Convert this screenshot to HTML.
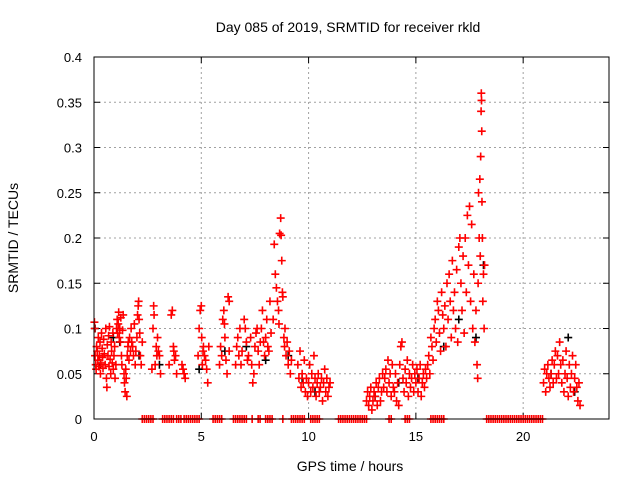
<!DOCTYPE html>
<html><head><meta charset="utf-8"><style>
body{margin:0;background:#fff}
svg{display:block;font-family:"Liberation Sans",sans-serif}
</style></head><body>
<svg id="chart" width="640" height="480">
<text x="348" y="32" text-anchor="middle" font-size="14">Day 085 of 2019, SRMTID for receiver rkld</text>
<text x="350" y="471" text-anchor="middle" font-size="14">GPS time / hours</text>
<text transform="translate(18,238) rotate(-90)" text-anchor="middle" font-size="14">SRMTID / TECUs</text>
<g id="grid"></g><g id="ticks"></g><g id="black"></g><g id="red"></g>
<rect x="94" y="57" width="515" height="362" fill="none" stroke="#000" stroke-width="1"/>
</svg>
<script>
const xTicks=[0,5,10,15,20];
const yTicks=[0,0.05,0.1,0.15,0.2,0.25,0.3,0.35,0.4];
const yTickLabels=["0","0.05","0.1","0.15","0.2","0.25","0.3","0.35","0.4"];
const hours=[0.02,0.03,0.05,0.08,0.1,0.12,0.15,0.18,0.2,0.22,0.25,0.28,0.3,0.32,0.35,0.38,0.4,0.42,0.45,0.48,
0.52,0.55,0.58,0.6,0.62,0.65,0.68,0.7,0.72,0.75,0.78,0.8,0.82,0.85,0.88,0.9,0.93,0.96,0.98,
1.02,1.05,1.08,1.1,1.13,1.15,1.18,1.2,1.23,1.25,1.28,1.3,1.33,1.36,1.4,1.42,1.45,1.48,
1.5,1.53,1.55,1.58,1.6,1.63,1.66,1.7,1.73,1.76,1.8,1.84,1.88,1.92,1.95,
2.0,2.03,2.06,2.08,2.1,2.13,2.16,2.2,2.25,
2.7,2.75,2.78,2.8,2.85,2.9,2.93,2.96,3.0,3.05,3.1,
3.5,3.6,3.65,3.7,3.72,3.75,3.8,3.85,
4.1,4.15,4.2,4.25,
4.85,4.9,4.95,5.0,5.02,5.05,5.08,5.1,5.15,5.2,5.25,5.3,5.35,
5.85,5.9,5.95,6.0,6.05,6.08,6.1,6.15,6.2,6.25,6.3,6.3,
6.6,6.65,6.7,6.75,6.8,6.85,6.9,7.0,7.05,7.1,7.15,7.2,
7.3,7.35,7.4,7.45,7.5,7.55,7.6,7.65,7.7,7.75,
7.8,7.85,7.9,7.95,8.0,8.05,8.1,8.15,8.2,8.25,
8.35,8.4,8.45,8.5,8.55,8.6,8.62,8.65,8.7,8.72,8.75,8.78,8.8,8.85,8.88,
8.9,8.95,9.0,9.05,9.1,9.15,9.2,
9.5,9.55,9.6,9.65,9.7,9.75,9.8,9.85,9.9,9.95,
10.0,10.05,10.1,10.15,10.2,10.25,10.3,10.35,10.4,10.45,10.5,10.55,10.6,10.65,10.7,10.75,10.8,10.85,10.9,10.95,11.0,
12.7,12.75,12.8,12.85,12.9,12.95,13.0,13.05,13.1,13.15,13.2,13.25,13.3,13.35,13.4,13.45,
13.5,13.55,13.6,13.65,13.7,13.75,13.8,13.85,13.9,13.95,
14.0,14.05,14.1,14.15,14.2,14.25,14.3,14.35,14.4,14.45,14.5,14.55,14.6,14.65,14.7,14.75,14.8,14.85,14.9,14.95,
15.0,15.05,15.1,15.15,15.2,15.25,15.3,15.35,15.4,15.45,15.5,15.55,
15.6,15.65,15.7,15.75,15.8,15.85,15.9,15.95,16.0,16.05,16.1,16.15,16.2,16.25,16.3,16.35,16.4,16.45,
16.5,16.55,16.6,16.65,16.7,16.75,16.8,16.85,16.9,16.95,17.0,17.05,17.1,17.15,
17.2,17.25,17.3,17.35,17.4,17.45,17.5,17.55,17.6,17.65,17.7,
17.75,17.8,17.85,17.88,17.9,17.92,17.95,17.98,18.0,18.02,18.04,18.05,18.06,18.07,18.08,18.1,18.12,18.15,18.18,18.2,
20.95,21.0,21.05,21.1,21.15,21.2,21.25,21.3,21.35,21.4,21.45,21.5,21.55,21.6,21.65,21.7,21.75,21.8,21.85,21.9,21.95,22.0,22.05,22.1,22.15,22.2,22.25,22.3,22.35,22.4,22.45,22.5,22.55,22.6,22.65];
const values=[.107,.1,.07,.06,.055,.08,.075,.065,.09,.058,.07,.085,.05,.062,.095,.078,.068,.056,.088,.072,
.06,.1,.045,.035,.082,.07,.092,.058,.102,.066,.05,.085,.075,.062,.095,.055,.07,.08,.045,
.06,.1,.11,.095,.105,.118,.09,.1,.085,.112,.07,.06,.098,.115,.05,.04,.03,.055,
.045,.025,.07,.08,.085,.065,.09,.075,.1,.085,.08,.07,.105,.06,.075,
.09,.115,.125,.13,.11,.095,.07,.06,.085,
.055,.1,.125,.115,.06,.08,.07,.09,.075,.07,.05,
.06,.115,.12,.08,.075,.065,.07,.05,
.06,.055,.05,.045,
.07,.1,.12,.125,.09,.06,.075,.08,.07,.065,.055,.04,.08,
.06,.08,.07,.11,.12,.105,.09,.065,.05,.135,.13,.075,
.06,.08,.09,.07,.1,.06,.075,.11,.1,.085,.065,.07,
.09,.06,.04,.05,.08,.095,.1,.075,.06,.085,
.1,.12,.085,.07,.09,.11,.08,.075,.13,.095,
.11,.193,.16,.145,.13,.12,.105,.205,.222,.203,.175,.14,.135,.09,.08,
.1,.07,.085,.06,.075,.05,.065,
.06,.045,.075,.035,.05,.04,.065,.03,.045,.025,
.04,.06,.03,.05,.035,.07,.045,.025,.04,.05,.03,.035,.045,.02,.04,.055,.03,.045,.025,.035,.04,
.02,.03,.015,.025,.035,.01,.02,.03,.025,.04,.015,.035,.045,.02,.03,.05,
.035,.045,.055,.03,.065,.04,.05,.025,.06,.035,
.03,.05,.02,.04,.015,.06,.08,.085,.045,.03,.055,.04,.065,.025,.05,.035,.045,.06,.03,.05,
.04,.055,.03,.045,.06,.025,.04,.05,.035,.055,.045,.06,
.07,.05,.09,.08,.065,.1,.11,.085,.13,.12,.095,.075,.14,.115,.1,.125,.08,.15,
.11,.16,.13,.09,.175,.12,.14,.1,.165,.085,.19,.2,.15,.12,
.18,.095,.2,.14,.225,.17,.235,.13,.215,.1,.16,
.085,.12,.06,.045,.15,.25,.2,.265,.18,.29,.34,.36,.352,.318,.24,.2,.13,.16,.1,.17,
.04,.055,.03,.05,.06,.045,.035,.05,.065,.04,.06,.075,.045,.07,.05,.085,.06,.04,.065,.03,.05,.075,.045,.025,.06,.035,.05,.07,.03,.045,.06,.035,.02,.04,.015];
const zeroHours=[2.25,2.35,2.45,2.55,2.65,2.75,3.2,3.3,3.4,3.5,3.6,3.7,3.85,3.95,4.05,4.2,4.3,4.4,4.5,4.6,4.7,4.8,4.9,
5.55,5.65,5.75,5.85,5.95,6.5,6.6,6.7,6.8,6.9,7.0,7.1,7.37,7.65,7.74,8.0,8.1,8.2,8.3,8.8,
9.2,9.3,9.4,9.5,9.6,9.7,9.8,10.1,10.2,10.3,10.4,10.5,
11.4,11.5,11.6,11.7,11.8,11.9,12.0,12.1,12.2,12.3,12.4,12.5,12.6,12.7,
13.75,13.85,14.5,14.6,14.7,15.7,15.8,15.9,16.0,16.1,16.2,16.3,
18.3,18.4,18.5,18.6,18.7,18.8,18.9,19.0,19.1,19.2,19.3,19.4,19.5,19.6,19.7,19.8,19.9,20.0,20.1,20.2,20.3,20.4,20.5,20.6,20.7,20.8,20.9];
const blackHours=[0.05,0.3,0.9,1.2,2.1,3.05,4.9,6.1,7.1,8.0,9.05,9.7,10.3,13.1,14.2,15.1,16.3,17.0,17.8,18.15,21.3,22.1,22.4];
const blackValues=[.1,.06,.09,.085,.07,.06,.055,.075,.08,.065,.07,.045,.03,.025,.04,.045,.08,.11,.09,.17,.05,.09,.03];

const X0=94,X1=609,Y0=419,Y1=57,XMAX=24,YMAX=0.4;
const sx=h=>X0+(h/XMAX)*(X1-X0);
const sy=v=>Y0-(v/YMAX)*(Y0-Y1);
const NS="http://www.w3.org/2000/svg";
function mk(tag,attrs,parent){const e=document.createElementNS(NS,tag);for(const k in attrs)e.setAttribute(k,attrs[k]);parent.appendChild(e);return e;}
const grid=document.getElementById('grid'),ticks=document.getElementById('ticks');
xTicks.forEach(t=>{const x=sx(t);
 if(t>0){const g=mk('line',{x1:x,x2:x,y1:Y1,y2:Y0,stroke:'#a0a0a0','stroke-dasharray':'2,3'},grid);
 
 }
 mk('line',{x1:x,x2:x,y1:Y0,y2:Y0-6,stroke:'#000'},ticks);
 mk('line',{x1:x,x2:x,y1:Y1,y2:Y1+6,stroke:'#000'},ticks);
 const l=mk('text',{x:x,y:Y0+22,'text-anchor':'middle','font-size':'13'},ticks);l.textContent=t;
 
 
});
yTicks.forEach((t,i)=>{const y=sy(t);
 if(t>0&&t<YMAX){const g=mk('line',{x1:X0,x2:X1,y1:y,y2:y,stroke:'#a0a0a0','stroke-dasharray':'2,3'},grid);
 
 }
 mk('line',{x1:X0,x2:X0+6,y1:y,y2:y,stroke:'#000'},ticks);
 mk('line',{x1:X1,x2:X1-6,y1:y,y2:y,stroke:'#000'},ticks);
 const l=mk('text',{x:X0-12,y:y+5,'text-anchor':'end','font-size':'13'},ticks);l.textContent=yTickLabels[i];
 
 
});
function plus(h,v,col,parent,name){const x=sx(h),y=sy(v);
 const p=mk('path',{d:`M${x-4},${y}h8M${x},${y-4}v8`,stroke:col,'stroke-width':'1.6',fill:'none'},parent);
 
 }
const bk=document.getElementById('black'),rd=document.getElementById('red');
blackHours.forEach((h,i)=>plus(h,blackValues[i],'#000',bk,'black-point'));
hours.forEach((h,i)=>plus(h,values[i],'#f00',rd,'red-point'));
zeroHours.forEach(h=>plus(h,0,'#f00',rd,'zero-point'));
</script>
</body></html>
